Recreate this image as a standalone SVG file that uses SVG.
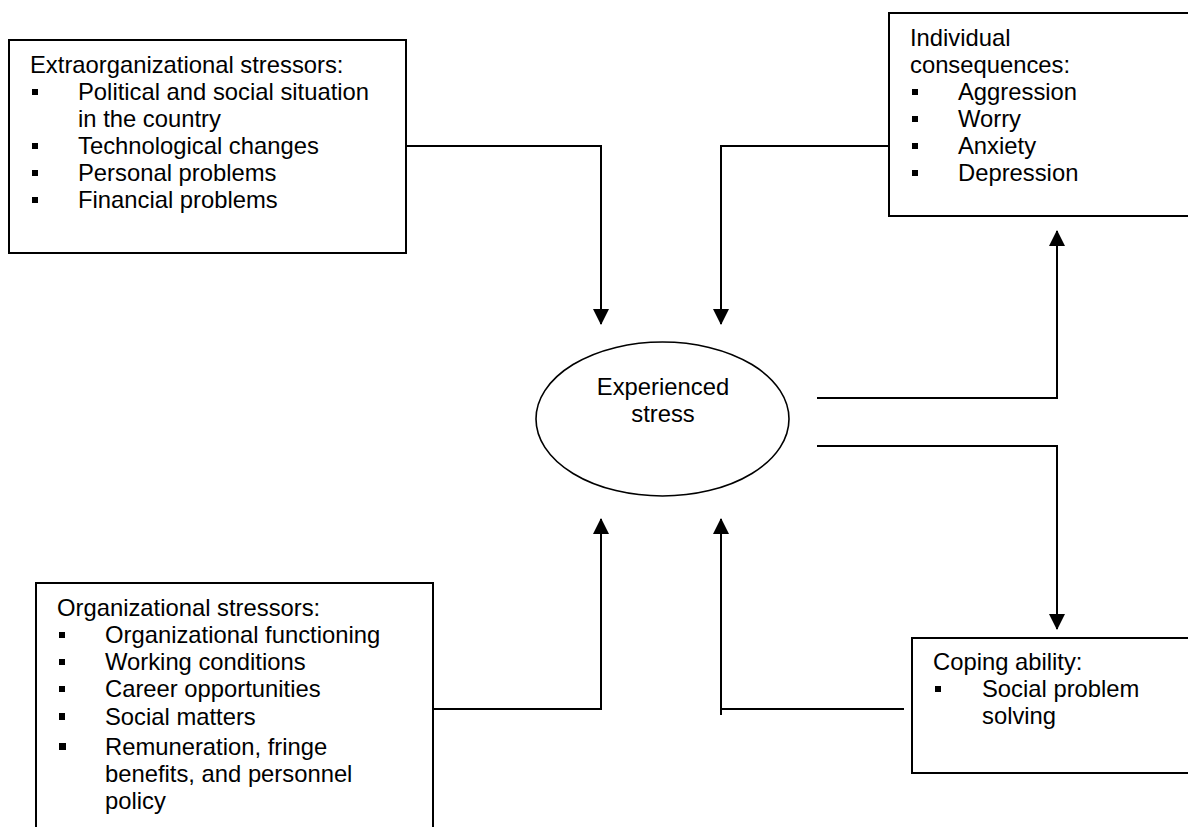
<svg xmlns="http://www.w3.org/2000/svg" width="1188" height="827" viewBox="0 0 1188 827">
<style>
.box{fill:#fff;stroke:#000;stroke-width:2}
.t{font-family:"Liberation Sans",Arial,sans-serif;font-size:23.8px;fill:#000}
.c{text-anchor:middle}
.b{fill:#000}
.con{fill:none;stroke:#000;stroke-width:2}
</style>
<defs>
<marker id="arr" viewBox="0 0 16 16" refX="15" refY="8" markerWidth="16" markerHeight="16" orient="auto" markerUnits="userSpaceOnUse">
<path d="M0,0 L16,8 L0,16 z" fill="#000"/>
</marker>
</defs>
<rect width="1188" height="827" fill="#fff"/>

<g id="connectors">
<polyline class="con" points="406,146 601,146 601,324" marker-end="url(#arr)"/>
<polyline class="con" points="889,146 721,146 721,324" marker-end="url(#arr)"/>
<polyline class="con" points="817,398 1057,398 1057,231" marker-end="url(#arr)"/>
<polyline class="con" points="817,446 1057,446 1057,629" marker-end="url(#arr)"/>
<polyline class="con" points="433,709 601,709 601,519" marker-end="url(#arr)"/>
<polyline class="con" points="904,709 721,709 721,519" marker-end="url(#arr)"/>
<line class="con" x1="721" y1="709" x2="721" y2="715"/>
</g>

<g id="extraorganizational">
<rect class="box" x="9" y="40" width="397" height="213"/>
<text class="t" x="30" y="73">Extraorganizational stressors:</text>
<rect class="b" x="32" y="89" width="6" height="6"/>
<text class="t" x="78" y="100">Political and social situation</text>
<text class="t" x="78" y="127">in the country</text>
<rect class="b" x="32" y="143" width="6" height="6"/>
<text class="t" x="78" y="154">Technological changes</text>
<rect class="b" x="32" y="170" width="6" height="6"/>
<text class="t" x="78" y="181">Personal problems</text>
<rect class="b" x="32" y="197" width="6" height="6"/>
<text class="t" x="78" y="208">Financial problems</text>
</g>

<g id="individual">
<rect class="box" x="889" y="13" width="310" height="203"/>
<text class="t" x="910" y="46">Individual</text>
<text class="t" x="910" y="73">consequences:</text>
<rect class="b" x="912" y="89" width="6" height="6"/>
<text class="t" x="958" y="100">Aggression</text>
<rect class="b" x="912" y="116" width="6" height="6"/>
<text class="t" x="958" y="127">Worry</text>
<rect class="b" x="912" y="143" width="6" height="6"/>
<text class="t" x="958" y="154">Anxiety</text>
<rect class="b" x="912" y="170" width="6" height="6"/>
<text class="t" x="958" y="181">Depression</text>
</g>

<g id="stress">
<ellipse cx="662.5" cy="419" rx="126.5" ry="77" fill="#fff" stroke="#000" stroke-width="1.6"/>
<text class="t c" x="663" y="395">Experienced</text>
<text class="t c" x="663" y="422">stress</text>
</g>

<g id="organizational">
<rect class="box" x="36" y="583" width="397" height="260"/>
<text class="t" x="57" y="616">Organizational stressors:</text>
<rect class="b" x="59" y="632" width="6" height="6"/>
<text class="t" x="105" y="643">Organizational functioning</text>
<rect class="b" x="59" y="659" width="6" height="6"/>
<text class="t" x="105" y="670">Working conditions</text>
<rect class="b" x="59" y="686" width="6" height="6"/>
<text class="t" x="105" y="697">Career opportunities</text>
<rect class="b" x="59" y="713" width="6" height="7"/>
<text class="t" x="105" y="725">Social matters</text>
<rect class="b" x="59" y="743" width="7" height="7"/>
<text class="t" x="105" y="755">Remuneration, fringe</text>
<text class="t" x="105" y="782">benefits, and personnel</text>
<text class="t" x="105" y="809">policy</text>
</g>

<g id="coping">
<rect class="box" x="912" y="638" width="290" height="135"/>
<text class="t" x="933" y="670">Coping ability:</text>
<rect class="b" x="935" y="686" width="6" height="6"/>
<text class="t" x="982" y="697">Social problem</text>
<text class="t" x="982" y="724">solving</text>
</g>
</svg>
